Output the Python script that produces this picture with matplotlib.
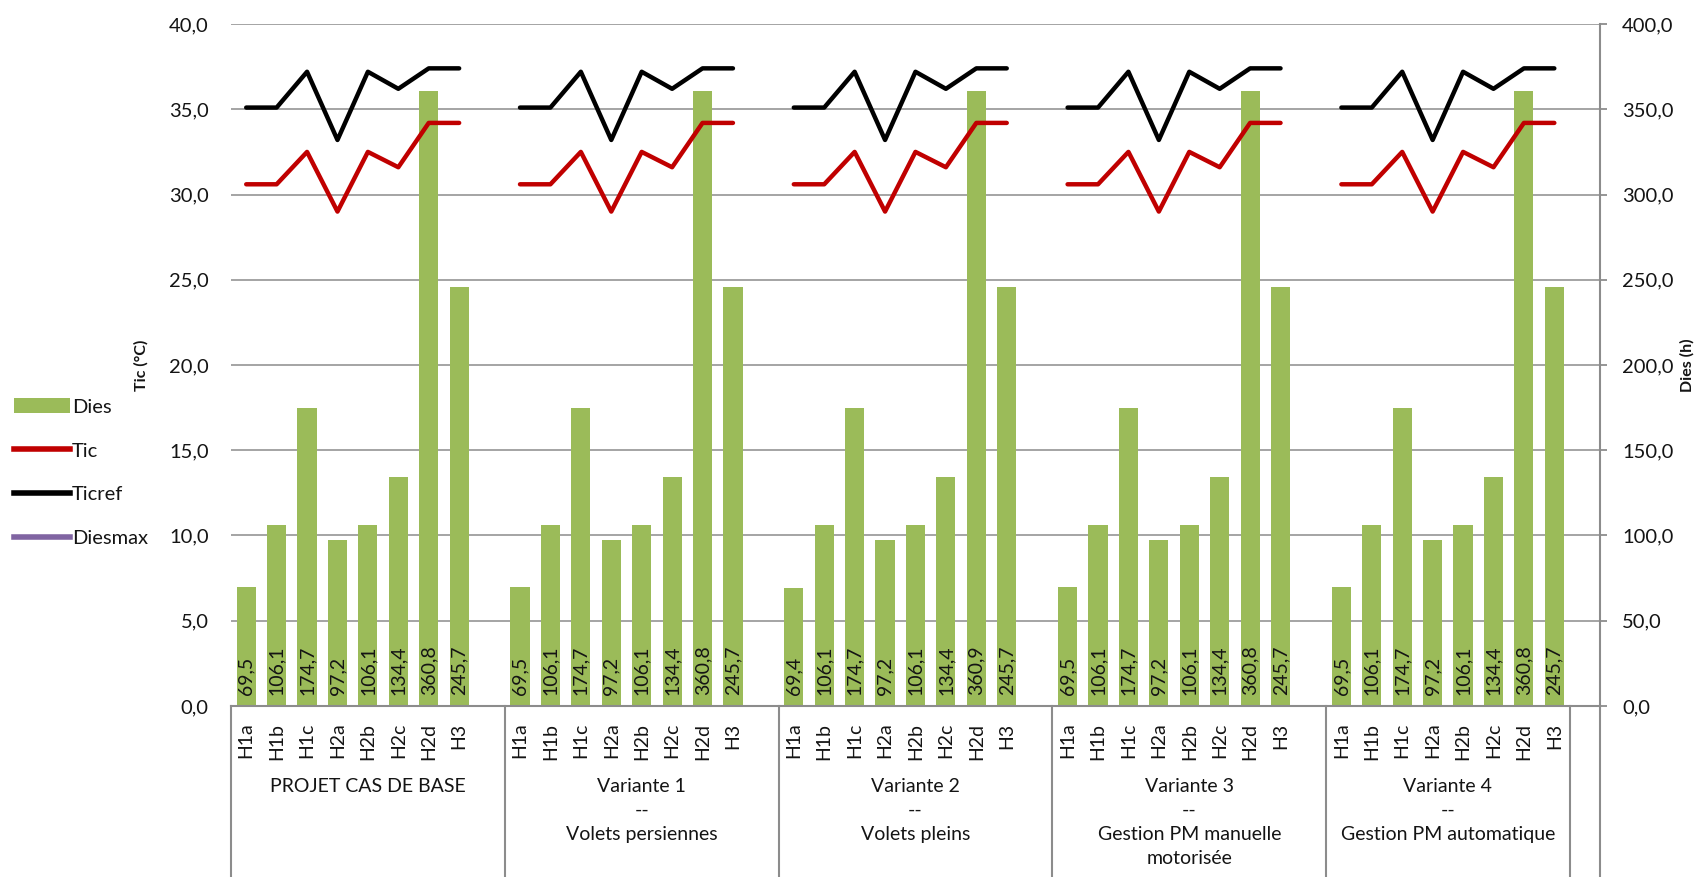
import matplotlib as mpl

mpl.use("Agg")
import matplotlib.pyplot as plt
import numpy as np
from matplotlib.lines import Line2D
from matplotlib.patches import Patch

# --- data -------------------------------------------------------------
zones = ["H1a", "H1b", "H1c", "H2a", "H2b", "H2c", "H2d", "H3"]
scenarios = [
    "PROJET CAS DE BASE",
    "Variante 1\n--\nVolets persiennes",
    "Variante 2\n--\nVolets pleins",
    "Variante 3\n--\nGestion PM manuelle\nmotorisée",
    "Variante 4\n--\nGestion PM automatique",
]
dies_base = [69.5, 106.1, 174.7, 97.2, 106.1, 134.4, 360.8, 245.7]
dies_v1 = [69.5, 106.1, 174.7, 97.2, 106.1, 134.4, 360.8, 245.7]
dies_v2 = [69.4, 106.1, 174.7, 97.2, 106.1, 134.4, 360.9, 245.7]
dies_v3 = [69.5, 106.1, 174.7, 97.2, 106.1, 134.4, 360.8, 245.7]
dies_v4 = [69.5, 106.1, 174.7, 97.2, 106.1, 134.4, 360.8, 245.7]
# Tic / Ticref are the same for every scenario in the source chart
tic = [30.6, 30.6, 32.5, 29.0, 32.5, 31.6, 34.2, 34.2]
ticref = [35.1, 35.1, 37.2, 33.2, 37.2, 36.2, 37.4, 37.4]

dies_groups = [dies_base, dies_v1, dies_v2, dies_v3, dies_v4]

# --- style ------------------------------------------------------------
GREEN = "#9bbb59"
RED = "#c00000"
BLACK = "#000000"
PURPLE = "#8064a2"
AXIS = "#8c8c8c"
INK = "#141414"
FS = 14.5

plt.rcParams["font.family"] = ["Lato", "DejaVu Sans"]
plt.rcParams["text.color"] = INK


def fr(v):
    return f"{v:.1f}".replace(".", ",")


# one empty category after each scenario, as in the Excel sheet
n_sub = len(zones)
step = n_sub + 1
n_cat = step * len(scenarios)
x_all = np.arange(n_cat)
dies_all = np.full(n_cat, np.nan)
tic_all = np.full(n_cat, np.nan)
ticref_all = np.full(n_cat, np.nan)
labels_all = [""] * n_cat
for g, vals in enumerate(dies_groups):
    for i in range(n_sub):
        k = g * step + i
        dies_all[k] = vals[i]
        tic_all[k] = tic[i]
        ticref_all[k] = ticref[i]
        labels_all[k] = zones[i]

fig = plt.figure(figsize=(17.01, 8.77), dpi=100)
ax = fig.add_axes([0.1358, 0.195, 0.8048, 0.7776])
ax2 = ax.twinx()
ax.set_zorder(ax2.get_zorder() + 1)
ax.patch.set_visible(False)

# bars on the right axis (behind), grid there too
ax2.bar(x_all, dies_all, width=0.63, color=GREEN, zorder=2)
ax2.set_ylim(0, 400)
ax2.set_yticks(np.arange(0, 401, 50))
ax2.set_yticklabels([fr(v) for v in np.arange(0, 401, 50)])
ax2.grid(axis="y", color=AXIS, linewidth=1.1, zorder=0)
ax2.set_axisbelow(True)
for k in range(n_cat):
    if not np.isnan(dies_all[k]):
        ax2.annotate(fr(dies_all[k]), xy=(x_all[k], 0), xytext=(0, 8),
                     textcoords="offset points", rotation=90,
                     ha="center", va="bottom", fontsize=14, color=INK)

# lines on the left axis (front)
ax.plot(x_all, tic_all, color=RED, lw=3.2, solid_capstyle="round", zorder=3)
ax.plot(x_all, ticref_all, color=BLACK, lw=3.2, solid_capstyle="round",
        zorder=3)
ax.set_ylim(0, 40)
ax.set_yticks(np.arange(0, 41, 5))
ax.set_yticklabels([fr(v) for v in np.arange(0, 41, 5)])
ax.set_xlim(-0.5, n_cat - 0.5)

ticks = [k for k in range(n_cat) if labels_all[k]]
ax.set_xticks(ticks)
ax.set_xticklabels([labels_all[k] for k in ticks], rotation=90)
ax.tick_params(axis="x", length=0, pad=12, labelsize=14, labelcolor=INK)
ax.tick_params(axis="y", length=0, pad=16, labelsize=FS, labelcolor=INK)
ax2.tick_params(axis="y", length=5, width=1.3, color=AXIS, pad=11,
                labelsize=FS, labelcolor=INK)

for a in (ax, ax2):
    for s in a.spines.values():
        s.set_visible(False)
ax2.spines["right"].set_visible(True)
ax2.spines["right"].set_color(AXIS)
ax2.spines["right"].set_linewidth(1.5)
ax.spines["bottom"].set_visible(True)
ax.spines["bottom"].set_color(AXIS)
ax.spines["bottom"].set_linewidth(1.5)

# multi-level category box below the axis
trans = ax.get_xaxis_transform()
bounds = [g * step - 0.5 for g in range(len(scenarios))]
bounds += [(len(scenarios) - 1) * step + n_sub - 0.5, n_cat - 0.5]
for b in bounds:
    ax.plot([b, b], [0, -0.3], transform=trans, color=AXIS, lw=1.5,
            clip_on=False)
for g, name in enumerate(scenarios):
    lo = g * step - 0.5
    hi = lo + (step if g < len(scenarios) - 1 else n_sub)
    ax.annotate(name, xy=((lo + hi) / 2, 0), xycoords=trans,
                xytext=(0, -72), textcoords="offset pixels",
                ha="center", va="top", fontsize=14, linespacing=1.5,
                color=INK)

fig.text(0.083, 0.584, "Tic (°C)", rotation=90, ha="center", va="center",
         fontsize=11.5, fontweight="bold", color=INK)
fig.text(0.992, 0.584, "Dies (h)", rotation=90, ha="center", va="center",
         fontsize=11.5, fontweight="bold", color=INK)

# legend (Diesmax has no visible values in the source chart)
handles = [
    Patch(facecolor=GREEN, edgecolor="none", label="Dies"),
    Line2D([], [], color=RED, lw=4, label="Tic"),
    Line2D([], [], color=BLACK, lw=4, label="Ticref"),
    Line2D([], [], color=PURPLE, lw=4, label="Diesmax"),
]
fig.legend(handles=handles, loc="center left", bbox_to_anchor=(0.008, 0.461),
           frameon=False, fontsize=FS, handlelength=2.8, handleheight=0.8,
           handletextpad=0.1, labelspacing=1.3, borderpad=0, borderaxespad=0)

fig.savefig("out.png", dpi=100)
